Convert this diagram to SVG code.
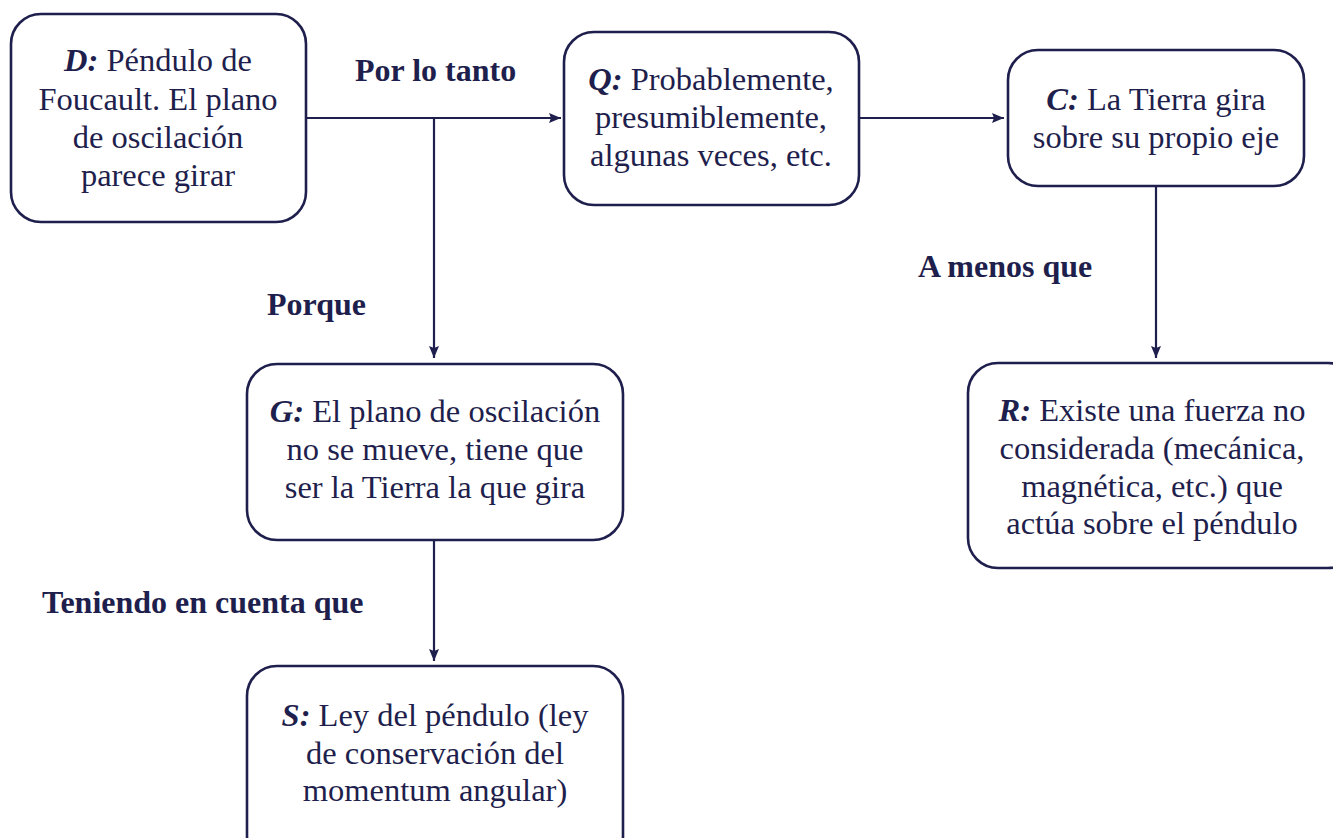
<svg xmlns="http://www.w3.org/2000/svg" width="1333" height="838" viewBox="0 0 1333 838">
<style>
.box{fill:#fff;stroke:#1f1f4d;stroke-width:2.6}
.t{font-family:"Liberation Serif","Times New Roman",serif;font-size:32.5px;fill:#1f1f4d;text-anchor:middle}
.k{font-weight:bold;font-style:italic}
.lbl{font-family:"Liberation Serif","Times New Roman",serif;font-size:32px;font-weight:bold;fill:#1f1f4d}
.c{fill:none;stroke:#1f1f4d;stroke-width:2.2}
</style>
<defs>
<marker id="a" viewBox="0 0 12 10" refX="12" refY="5" markerWidth="12" markerHeight="10" orient="auto" markerUnits="userSpaceOnUse">
<path d="M0,0 L12,5 L0,10 L2,5 z" fill="#1f1f4d"/>
</marker>
</defs>
<rect width="1333" height="838" fill="#fff"/>
<g id="connectors">
<path class="c" d="M306,118 H561" marker-end="url(#a)"/>
<path class="c" d="M434,118 V358" marker-end="url(#a)"/>
<path class="c" d="M859,118 H1004" marker-end="url(#a)"/>
<path class="c" d="M1156,186 V358" marker-end="url(#a)"/>
<path class="c" d="M434,540 V661" marker-end="url(#a)"/>
<text class="lbl" x="355" y="81">Por lo tanto</text>
<text class="lbl" x="267" y="315">Porque</text>
<text class="lbl" x="918" y="277">A menos que</text>
<text class="lbl" x="42" y="613">Teniendo en cuenta que</text>
</g>
<g id="D">
<rect class="box" x="11" y="14" width="295" height="208" rx="30"/>
<text class="t" x="158" y="71"><tspan class="k">D:</tspan> Péndulo de</text>
<text class="t" x="158" y="110">Foucault. El plano</text>
<text class="t" x="158" y="148">de oscilación</text>
<text class="t" x="158" y="186">parece girar</text>
</g>
<g id="Q">
<rect class="box" x="564" y="32" width="295" height="173" rx="30"/>
<text class="t" x="711" y="90"><tspan class="k">Q:</tspan> Probablemente,</text>
<text class="t" x="711" y="128">presumiblemente,</text>
<text class="t" x="711" y="166">algunas veces, etc.</text>
</g>
<g id="C">
<rect class="box" x="1008" y="50" width="296" height="136" rx="30"/>
<text class="t" x="1156" y="110"><tspan class="k">C:</tspan> La Tierra gira</text>
<text class="t" x="1156" y="148">sobre su propio eje</text>
</g>
<g id="G">
<rect class="box" x="247" y="364" width="376" height="176" rx="30"/>
<text class="t" x="435" y="422"><tspan class="k">G:</tspan> El plano de oscilación</text>
<text class="t" x="435" y="460">no se mueve, tiene que</text>
<text class="t" x="435" y="498">ser la Tierra la que gira</text>
</g>
<g id="R">
<rect class="box" x="968" y="363" width="390" height="205" rx="30"/>
<text class="t" x="1152" y="421"><tspan class="k">R:</tspan> Existe una fuerza no</text>
<text class="t" x="1152" y="459">considerada (mecánica,</text>
<text class="t" x="1152" y="497">magnética, etc.) que</text>
<text class="t" x="1152" y="534">actúa sobre el péndulo</text>
</g>
<g id="S">
<rect class="box" x="247" y="666" width="376" height="200" rx="30"/>
<text class="t" x="435" y="726"><tspan class="k">S:</tspan> Ley del péndulo (ley</text>
<text class="t" x="435" y="764">de conservación del</text>
<text class="t" x="435" y="801">momentum angular)</text>
</g>
</svg>
